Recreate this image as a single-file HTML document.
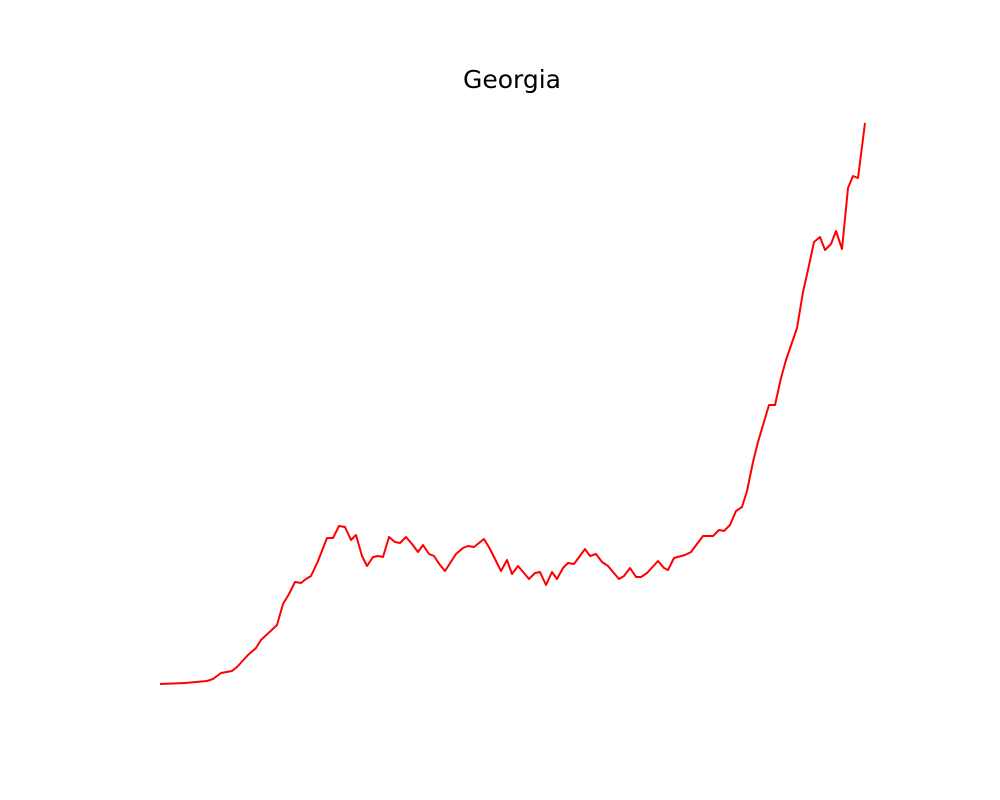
<!DOCTYPE html>
<html><head><meta charset="utf-8"><style>
html,body{margin:0;padding:0;background:#fff;}
svg{display:block;}
</style></head><body>
<svg id="chart" width="1000" height="800" viewBox="0 0 1000 800" xmlns="http://www.w3.org/2000/svg">
<rect width="1000" height="800" fill="#fff"/>
<text x="512" y="88" text-anchor="middle" font-family="DejaVu Sans, Liberation Sans, sans-serif" font-size="25" fill="#000">Georgia</text>
</svg>
<script>
// data: days (arbitrary units) and values (arbitrary units)
const days = [0,25,47,53,61,72,77,88,96,101,117,123,129,135,141,146,151,158,167,173,179,185,191,196,202,207,213,218,223,229,235,240,246,252,258,263,269,274,280,285,296,303,308,314,324,330,341,347,352,358,364,369,375,380,386,392,397,403,408,414,425,430,436,442,448,453,459,464,470,476,481,487,498,504,508,514,525,531,537,543,553,559,564,570,576,582,587,593,598,609,615,621,626,637,643,648,654,660,665,671,676,682,688,693,698,705];
const values = [0,1,3,5,11,13,17,29,36,44,59,80,90,102,101,105,108,123,146,146,158,157,144,149,128,118,127,128,127,147,142,141,147,140,132,139,130,128,119,113,130,136,138,137,145,135,113,124,110,118,111,105,111,112,99,112,105,116,121,120,135,128,130,122,118,112,105,108,116,107,107,111,123,116,114,126,129,132,140,148,148,154,153,159,173,177,193,222,242,279,279,306,324,356,392,414,442,447,434,440,453,435,496,508,506,561];

const X0 = 160, X1 = 865, Y0 = 684, Y1 = 123;
const dMin = Math.min(...days), dMax = Math.max(...days);
const vMin = 0, vMax = Math.max(...values);
function xScale(d){ return X0 + (d - dMin) / (dMax - dMin) * (X1 - X0); }
function yScale(v){ return Y0 - (v - vMin) / (vMax - vMin) * (Y0 - Y1); }

const svg = document.getElementById('chart');
const pts = days.map((d,i) => xScale(d).toFixed(1) + ',' + yScale(values[i]).toFixed(1)).join(' ');
const line = document.createElementNS('http://www.w3.org/2000/svg','polyline');
line.setAttribute('points', pts);
line.setAttribute('fill', 'none');
line.setAttribute('stroke', '#ff0000');
line.setAttribute('stroke-width', '2');
line.setAttribute('stroke-linejoin', 'round');


svg.appendChild(line);
</script>
</body></html>
